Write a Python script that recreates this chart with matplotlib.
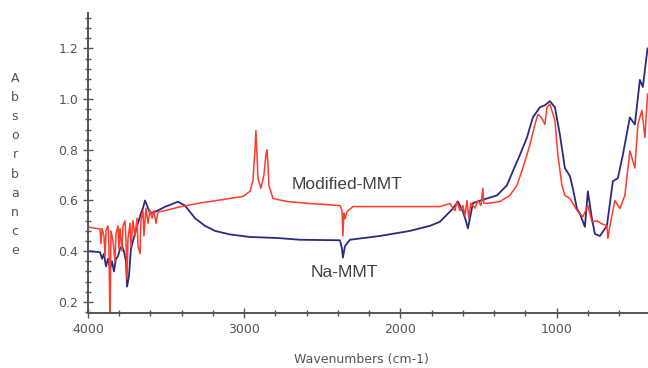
import matplotlib
matplotlib.use("Agg")
import matplotlib.pyplot as plt
from matplotlib.ticker import MultipleLocator, FormatStrFormatter

# ─────────────────────────────────────────────
# FTIR spectra (wavenumber cm-1, absorbance)
# ─────────────────────────────────────────────
na_wn = [4000, 3955, 3923, 3910, 3898, 3885, 3872, 3859, 3846, 3834, 3821, 3808,
         3795, 3782, 3770, 3757, 3750, 3738, 3725, 3712, 3699, 3680, 3661, 3648,
         3635, 3622, 3603, 3571, 3507, 3424, 3379, 3315, 3251, 3187, 3091, 2963,
         2790, 2643, 2387, 2374, 2368, 2355, 2336, 2323, 2131, 1939, 1811, 1747,
         1664, 1632, 1600, 1581, 1568, 1555, 1536, 1446, 1382, 1318, 1280, 1235,
         1190, 1152, 1107, 1075, 1043, 1011, 979, 947, 915, 896, 870, 851,
         819, 800, 774, 755, 723, 678, 640, 608, 576, 531, 499, 467,
         448, 418]
na_abs = [0.400, 0.398, 0.396, 0.370, 0.390, 0.340, 0.370, 0.330, 0.360, 0.320, 0.370, 0.380,
          0.410, 0.420, 0.400, 0.360, 0.260, 0.300, 0.410, 0.440, 0.470, 0.510, 0.550, 0.570,
          0.600, 0.580, 0.550, 0.555, 0.575, 0.595, 0.580, 0.530, 0.500, 0.480, 0.466, 0.456,
          0.452, 0.445, 0.443, 0.410, 0.375, 0.420, 0.435, 0.445, 0.460, 0.480, 0.500, 0.516,
          0.568, 0.596, 0.556, 0.520, 0.490, 0.530, 0.590, 0.608, 0.620, 0.660, 0.716, 0.780,
          0.848, 0.928, 0.968, 0.976, 0.992, 0.968, 0.860, 0.728, 0.696, 0.648, 0.568, 0.548,
          0.496, 0.636, 0.528, 0.468, 0.460, 0.500, 0.676, 0.688, 0.780, 0.928, 0.900, 1.076,
          1.048, 1.200]

mod_wn = [4000, 3955, 3923, 3917, 3910, 3898, 3891, 3885, 3872, 3866, 3859, 3853,
          3840, 3827, 3821, 3808, 3802, 3795, 3782, 3776, 3763, 3757, 3750, 3744,
          3731, 3725, 3712, 3699, 3686, 3680, 3667, 3661, 3648, 3642, 3629, 3616,
          3603, 3590, 3578, 3565, 3552, 3507, 3411, 3283, 3219, 3008, 2963, 2944,
          2931, 2925, 2918, 2912, 2893, 2874, 2861, 2854, 2848, 2842, 2816, 2726,
          2579, 2387, 2374, 2368, 2362, 2355, 2342, 2304, 1811, 1747, 1683, 1651,
          1638, 1619, 1600, 1587, 1574, 1562, 1549, 1523, 1504, 1485, 1472, 1466,
          1446, 1363, 1299, 1254, 1216, 1171, 1139, 1120, 1101, 1088, 1075, 1062,
          1043, 1011, 992, 966, 947, 915, 896, 864, 832, 800, 774, 742,
          710, 678, 672, 659, 646, 627, 595, 563, 531, 499, 480, 454,
          435, 418]
mod_abs = [0.496, 0.490, 0.488, 0.430, 0.490, 0.460, 0.380, 0.480, 0.500, 0.420, 0.100, 0.480,
           0.440, 0.360, 0.470, 0.500, 0.410, 0.490, 0.400, 0.500, 0.520, 0.440, 0.290, 0.450,
           0.510, 0.420, 0.520, 0.460, 0.530, 0.420, 0.390, 0.520, 0.560, 0.460, 0.570, 0.510,
           0.560, 0.530, 0.560, 0.510, 0.555, 0.560, 0.575, 0.590, 0.596, 0.616, 0.636, 0.680,
           0.800, 0.876, 0.780, 0.688, 0.648, 0.700, 0.780, 0.800, 0.740, 0.660, 0.608, 0.596,
           0.588, 0.580, 0.560, 0.460, 0.550, 0.528, 0.556, 0.576, 0.576, 0.576, 0.588, 0.560,
           0.596, 0.560, 0.580, 0.540, 0.600, 0.530, 0.590, 0.570, 0.600, 0.580, 0.648, 0.590,
           0.588, 0.596, 0.620, 0.660, 0.728, 0.820, 0.900, 0.940, 0.930, 0.916, 0.900, 0.968,
           0.980, 0.916, 0.780, 0.660, 0.620, 0.608, 0.588, 0.556, 0.536, 0.580, 0.516, 0.520,
           0.508, 0.500, 0.450, 0.500, 0.540, 0.600, 0.568, 0.620, 0.796, 0.728, 0.900, 0.956,
           0.848, 1.020]

NAVY = "#2b2a80"
RED = "#ff3b2b"
GREY = "#404040"

fig = plt.figure(figsize=(6.48, 3.68), dpi=100)
ax = fig.add_axes([0.1358, 0.1495, 0.8642, 0.8152])

ax.plot(na_wn, na_abs, color=NAVY, linewidth=1.3)
ax.plot(mod_wn, mod_abs, color=RED, linewidth=1.1)

ax.set_xlim(4000, 415)
ax.set_ylim(0.156, 1.34)

# axes styling — only left / bottom spines, ticks crossing the axis
for side in ("top", "right"):
    ax.spines[side].set_visible(False)
for side in ("left", "bottom"):
    ax.spines[side].set_color("#555555")
    ax.spines[side].set_linewidth(1.4)

ax.xaxis.set_major_locator(MultipleLocator(1000))
ax.xaxis.set_minor_locator(MultipleLocator(200))
ax.yaxis.set_major_locator(MultipleLocator(0.2))
ax.yaxis.set_minor_locator(MultipleLocator(0.04))
ax.yaxis.set_major_formatter(FormatStrFormatter("%.1f"))
ax.xaxis.set_major_formatter(FormatStrFormatter("%d"))

ax.tick_params(which="major", direction="inout", length=7, width=1.0,
               color="#555555", labelcolor="#555555", labelsize=9)
ax.tick_params(which="minor", direction="inout", length=4, width=1.0, color="#555555")
ax.tick_params(axis="x", which="major", pad=4)

# labels
fig.text(361 / 648, 1 - 359 / 368, "Wavenumbers (cm-1)", ha="center", va="center",
         fontsize=9, color="#555555")
fig.text(15 / 648, 1 - 164.5 / 368, "\n".join("Absorbance"), ha="center", va="center",
         fontsize=9, color="#555555", linespacing=1.62)

ax.text(2342, 0.664, "Modified-MMT", ha="center", va="center",
        fontsize=12.5, color=GREY, family="Liberation Sans")
ax.text(2362, 0.316, "Na-MMT", ha="center", va="center",
        fontsize=12.5, color=GREY, family="Liberation Sans")

fig.savefig("out.png", dpi=100)
